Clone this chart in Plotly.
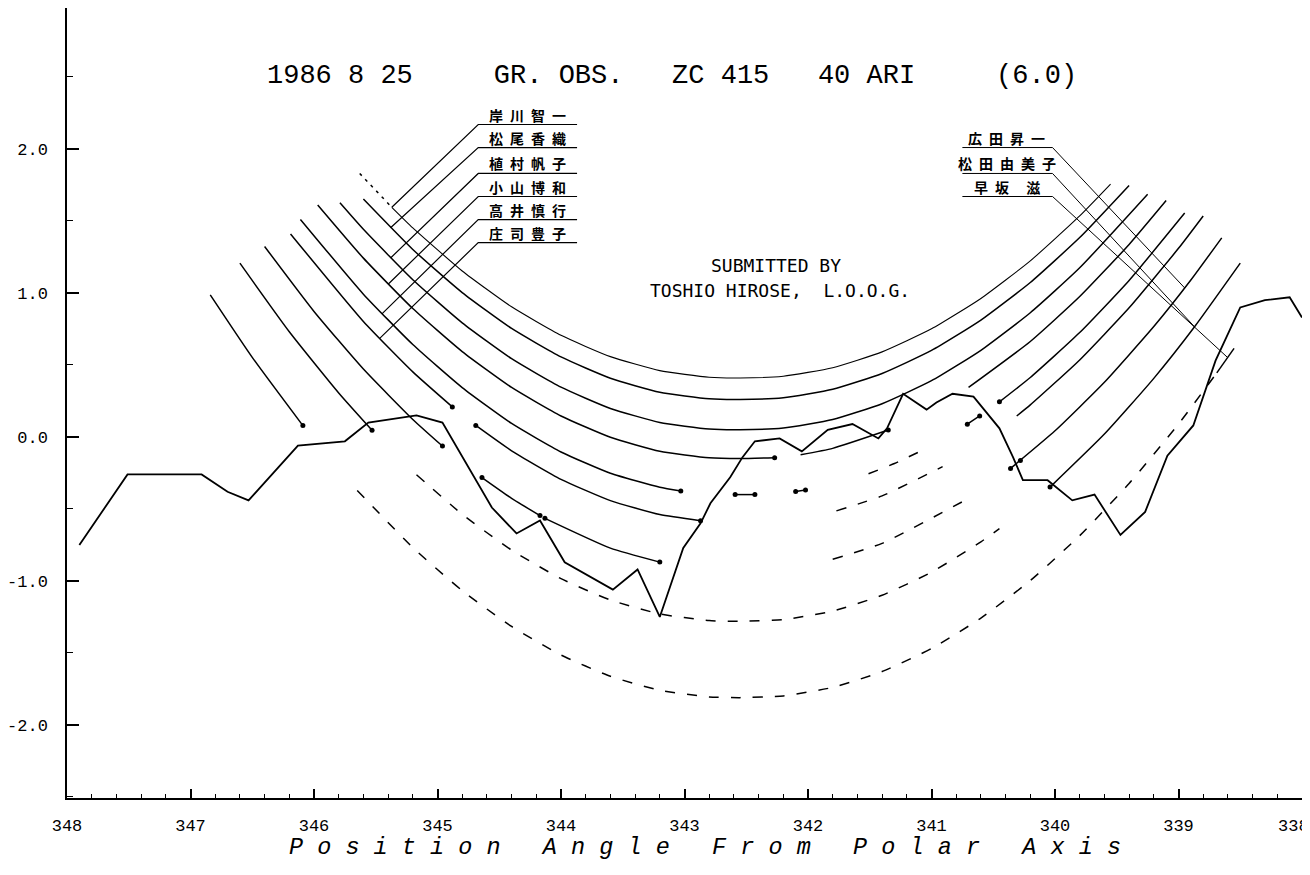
import plotly.graph_objects as go

# ---------------- data (position angle in degrees, height in arbitrary units) ----------------
x_ticks = [348, 347, 346, 345, 344, 343, 342, 341, 340, 339, 338]
x_ticktext = ["348", "347", "346", "345", "344", "343", "342", "341", "340", "339", ""]
x_last_label = "338"
y_ticks = [-2.0, -1.0, 0.0, 1.0, 2.0]
y_ticktext = ["-2.0", "-1.0", "0.0", "1.0", "2.0"]

# lunar limb profile
profile_pa = [347.90, 347.51, 346.91, 346.70, 346.53, 346.13, 345.75, 345.56, 345.17, 344.96,
              344.56, 344.36, 344.17, 343.97, 343.58, 343.38, 343.20, 343.01, 342.87, 342.79,
              342.63, 342.53, 342.43, 342.23, 342.05, 341.84, 341.64, 341.50, 341.43, 341.36,
              341.23, 341.04, 340.96, 340.83, 340.66, 340.45, 340.34, 340.26, 340.06, 339.86,
              339.68, 339.47, 339.27, 339.09, 338.88, 338.70, 338.50, 338.30, 338.10, 338.00]
profile_h = [-0.75, -0.26, -0.26, -0.38, -0.44, -0.06, -0.03, 0.10, 0.15, 0.10,
             -0.49, -0.67, -0.58, -0.87, -1.06, -0.92, -1.25, -0.77, -0.60, -0.46,
             -0.28, -0.14, -0.03, -0.01, -0.10, 0.05, 0.09, 0.02, -0.01, 0.06,
             0.30, 0.19, 0.24, 0.30, 0.28, 0.06, -0.14, -0.30, -0.30, -0.44,
             -0.40, -0.68, -0.52, -0.13, 0.08, 0.53, 0.90, 0.95, 0.97, 0.83]

# observer tracks (solid = star seen, dashed = star hidden)
s1_start_x = [345.63, 345.37]
s1_start_y = [1.83, 1.595]
s1_x = [345.37, 345.2, 344.8, 344.4, 344.0, 343.6, 343.2, 342.8, 342.55, 342.2, 341.8, 341.4, 341.0, 340.6, 340.2, 339.8, 339.55]
s1_y = [1.595, 1.452, 1.153, 0.904, 0.706, 0.558, 0.461, 0.415, 0.41, 0.422, 0.481, 0.591, 0.751, 0.962, 1.223, 1.535, 1.756]

s2_x = [345.6, 345.2, 344.8, 344.4, 344.0, 343.6, 343.2, 342.8, 342.55, 342.2, 341.8, 341.4, 341.0, 340.6, 340.2, 339.8, 339.4]
s2_y = [1.652, 1.302, 1.003, 0.754, 0.556, 0.408, 0.311, 0.265, 0.26, 0.272, 0.331, 0.441, 0.601, 0.812, 1.073, 1.385, 1.747]

s3_x = [345.79, 345.6, 345.2, 344.8, 344.4, 344.0, 343.6, 343.2, 342.8, 342.55, 342.2, 341.8, 341.4, 341.0, 340.6, 340.2, 339.8, 339.25]
s3_y = [1.626, 1.442, 1.092, 0.793, 0.544, 0.346, 0.198, 0.101, 0.055, 0.05, 0.062, 0.121, 0.231, 0.391, 0.602, 0.863, 1.175, 1.686]

s4a_x = [345.97, 345.6, 345.2, 344.8, 344.4, 344.0, 343.6, 343.2, 342.8, 342.55, 342.27]
s4a_y = [1.611, 1.242, 0.892, 0.593, 0.344, 0.146, -0.002, -0.099, -0.145, -0.15, -0.144]
s4b_x = [342.06, 341.8, 341.35]
s4b_y = [-0.123, -0.079, 0.048]
s4c_x = [340.7, 340.2, 339.8, 339.4, 339.1]
s4c_y = [0.344, 0.663, 0.975, 1.337, 1.642]

s5a_x = [346.11, 345.6, 345.2, 344.8, 344.4, 344.0, 343.6, 343.2, 343.03]
s5a_y = [1.511, 0.992, 0.642, 0.343, 0.094, -0.104, -0.252, -0.349, -0.375]
s5b_x = [342.59, 342.43]
s5b_y = [-0.40, -0.40]
s5c_x = [342.10, 342.02]
s5c_y = [-0.378, -0.368]
s5d_x = [341.51, 341.3, 341.08]
s5d_y = [-0.255, -0.184, -0.095]
s5e_x = [340.71, 340.61]
s5e_y = [0.089, 0.146]
s5f_x = [340.45, 340.2, 339.8, 339.4, 338.95]
s5f_y = [0.244, 0.413, 0.725, 1.087, 1.555]

s6a_x = [346.19, 345.6, 345.2, 344.88]
s6a_y = [1.41, 0.802, 0.452, 0.209]
s6b_x = [344.69, 344.4, 344.0, 343.6, 343.2, 342.87]
s6b_y = [0.08, -0.096, -0.294, -0.442, -0.539, -0.581]
s6c_x = [341.77, 341.4, 340.91]
s6c_y = [-0.513, -0.409, -0.206]
s6d_x = [340.31, 340.2, 339.8, 339.4, 339.0, 338.8]
s6d_y = [0.146, 0.223, 0.535, 0.897, 1.31, 1.535]

s7a_x = [346.40, 346.0, 345.6, 345.2, 344.96]
s7a_y = [1.323, 0.872, 0.472, 0.122, -0.063]
s7b_x = [344.64, 344.4, 344.17]
s7b_y = [-0.282, -0.426, -0.546]
s7c_x = [344.13, 343.6, 343.2]
s7c_y = [-0.565, -0.772, -0.869]
s7d_x = [341.80, 341.4, 340.71]
s7d_y = [-0.849, -0.739, -0.431]
s7e_x = [340.36, 340.0, 339.6, 339.2, 338.9, 338.65]
s7e_y = [-0.218, 0.043, 0.38, 0.767, 1.09, 1.383]

d2a_x = [346.60, 346.2, 345.8, 345.53]
d2a_y = [1.207, 0.731, 0.306, 0.047]
d2b_x = [345.17, 344.8, 344.4, 344.0, 343.6, 343.2, 342.8, 342.55, 342.2, 341.8, 341.4, 341.0, 340.6, 340.45]
d2b_y = [-0.262, -0.537, -0.786, -0.984, -1.132, -1.229, -1.275, -1.28, -1.268, -1.209, -1.099, -0.939, -0.728, -0.636]
d2c_x = [340.04, 339.6, 339.2, 338.87, 338.5]
d2c_y = [-0.348, 0.02, 0.407, 0.765, 1.207]

d1a_x = [346.84, 346.5, 346.09]
d1a_y = [0.987, 0.553, 0.079]
d1b_x = [345.65, 345.2, 344.8, 344.4, 344.0, 343.6, 343.2, 342.8, 342.55, 342.2, 341.8, 341.4, 341.0, 340.6, 340.2, 339.8, 339.4, 339.0, 338.69]
d1b_y = [-0.371, -0.768, -1.067, -1.316, -1.514, -1.662, -1.759, -1.805, -1.81, -1.798, -1.739, -1.629, -1.469, -1.258, -0.997, -0.685, -0.323, 0.09, 0.445]
d1c_x = [338.69, 338.55]
d1c_y = [0.445, 0.615]

# event dots
event_x = [342.27, 341.35, 343.03, 342.59, 342.43, 342.10, 342.02, 340.71, 340.61, 340.45,
           344.88, 344.69, 342.87, 344.96, 344.64, 344.17, 344.13, 343.2, 340.36, 340.28,
           345.53, 340.04, 346.09]
event_y = [-0.144, 0.048, -0.375, -0.40, -0.40, -0.378, -0.368, 0.089, 0.146, 0.244,
           0.209, 0.08, -0.581, -0.063, -0.282, -0.546, -0.565, -0.869, -0.218, -0.163,
           0.047, -0.348, 0.079]

# observer labels
left_names = ["岸川智一", "松尾香織", "植村帆子", "小山博和", "高井慎行", "庄司豊子"]
left_underline_y = [2.17, 2.01, 1.83, 1.67, 1.51, 1.35]
left_underline_x = [343.87, 344.67]
left_leader_end_x = [345.37, 345.38, 345.38, 345.40, 345.45, 345.47]
left_leader_end_y = [1.595, 1.453, 1.243, 1.061, 0.855, 0.683]
left_label_x = 344.27

right_names = ["広田昇一", "松田由美子", "早坂 滋"]
right_underline_y = [2.01, 1.83, 1.67]
right_underline_x = [340.75, 340.02]
right_leader_end_x = [338.95, 338.87, 338.60]
right_leader_end_y = [1.035, 0.765, 0.55]
right_label_x = 340.39

title_text = "1986 8 25     GR. OBS.   ZC 415   40 ARI     (6.0)"
submit_lines = ["SUBMITTED BY", "TOSHIO HIROSE,  L.O.O.G."]
x_title = "Position Angle From Polar Axis"

# ---------------- figure ----------------
fig = go.Figure()

def add_seg(x, y, style="solid", width=1.5):
    dash = {"solid": "solid", "dash": "10px,12px", "dot": "3px,5px"}[style]
    fig.add_trace(go.Scatter(x=x, y=y, mode="lines",
                             line=dict(color="black", width=width, dash=dash,
                                       shape="spline", smoothing=0.5),
                             hoverinfo="skip", showlegend=False))

segments = [
    (s1_start_x, s1_start_y, "dot"), (s1_x, s1_y, "solid"),
    (s2_x, s2_y, "solid"), (s3_x, s3_y, "solid"),
    (s4a_x, s4a_y, "solid"), (s4b_x, s4b_y, "solid"), (s4c_x, s4c_y, "solid"),
    (s5a_x, s5a_y, "solid"), (s5b_x, s5b_y, "solid"), (s5c_x, s5c_y, "solid"),
    (s5d_x, s5d_y, "dash"), (s5e_x, s5e_y, "solid"), (s5f_x, s5f_y, "solid"),
    (s6a_x, s6a_y, "solid"), (s6b_x, s6b_y, "solid"), (s6c_x, s6c_y, "dash"), (s6d_x, s6d_y, "solid"),
    (s7a_x, s7a_y, "solid"), (s7b_x, s7b_y, "solid"), (s7c_x, s7c_y, "solid"),
    (s7d_x, s7d_y, "dash"), (s7e_x, s7e_y, "solid"),
    (d2a_x, d2a_y, "solid"), (d2b_x, d2b_y, "dash"), (d2c_x, d2c_y, "solid"),
    (d1a_x, d1a_y, "solid"), (d1b_x, d1b_y, "dash"), (d1c_x, d1c_y, "solid"),
]
for sx, sy, st in segments:
    add_seg(sx, sy, st, width=1.1 if sx is s1_x else 1.5)

# profile
fig.add_trace(go.Scatter(x=profile_pa, y=profile_h, mode="lines",
                         line=dict(color="black", width=1.8),
                         hoverinfo="skip", showlegend=False))

# event dots
fig.add_trace(go.Scatter(x=event_x, y=event_y, mode="markers",
                         marker=dict(color="black", size=5),
                         hoverinfo="skip", showlegend=False))

# left labels with underlines and leaders
for name, uy, ex, ey in zip(left_names, left_underline_y, left_leader_end_x, left_leader_end_y):
    fig.add_trace(go.Scatter(x=[left_underline_x[0], left_underline_x[1], ex],
                             y=[uy, uy, ey], mode="lines",
                             line=dict(color="black", width=1.2),
                             hoverinfo="skip", showlegend=False))
    fig.add_annotation(x=left_label_x, y=uy, yshift=10, text="\u2002".join(name),
                       showarrow=False, xanchor="center", yanchor="middle",
                       font=dict(family="Noto Sans CJK JP", size=14, color="black", weight="bold"))

for name, uy, ex, ey in zip(right_names, right_underline_y, right_leader_end_x, right_leader_end_y):
    fig.add_trace(go.Scatter(x=[right_underline_x[0], right_underline_x[1], ex],
                             y=[uy, uy, ey], mode="lines",
                             line=dict(color="black", width=1.0),
                             hoverinfo="skip", showlegend=False))
    fig.add_annotation(x=right_label_x, y=uy, yshift=10, text="\u2002".join(name),
                       showarrow=False, xanchor="center", yanchor="middle",
                       font=dict(family="Noto Sans CJK JP", size=14, color="black", weight="bold"))

# title and submitter
fig.add_annotation(x=343.10, y=2.51, text=title_text.replace(" ", "\u00a0"), showarrow=False,
                   xanchor="center", yanchor="middle",
                   font=dict(family="Liberation Mono", size=27, color="black"))
fig.add_annotation(x=342.26, y=1.19, text=submit_lines[0].replace(" ", "\u00a0"), showarrow=False,
                   xanchor="center", yanchor="middle",
                   font=dict(family="DejaVu Sans Mono", size=18, color="black"))
fig.add_annotation(x=342.23, y=1.02, text=submit_lines[1].replace(" ", "\u00a0"), showarrow=False,
                   xanchor="center", yanchor="middle",
                   font=dict(family="DejaVu Sans Mono", size=18, color="black"))

# last x tick label, kept inside the window
fig.add_annotation(x=x_ticks[-1], xref="x", yref="paper", y=0, yshift=-28, xshift=-9,
                   text=x_last_label, showarrow=False, xanchor="center", yanchor="middle",
                   font=dict(family="Liberation Mono", size=17, color="black"))

# x-axis title (spaced plotter lettering)
spaced = "\u00a0".join(ch if ch != " " else "\u00a0" for ch in x_title)
fig.add_annotation(xref="paper", yref="paper", x=0.5166, y=-0.063, text=spaced,
                   showarrow=False, xanchor="center", yanchor="middle",
                   font=dict(family="Liberation Mono", size=23.5, color="black", style="italic"))

# the page body adds an 8px offset, so the figure is sized to fit the 1310x875 window
fig.update_layout(
    width=1302, height=867,
    margin=dict(l=59, r=8, t=0, b=77, autoexpand=False),
    plot_bgcolor="white", paper_bgcolor="white",
    showlegend=False,
    xaxis=dict(range=[348, 338], tickmode="array", tickvals=x_ticks,
               ticktext=x_ticktext, automargin=False,
               ticklabeloverflow="allow",
               showgrid=False, zeroline=False, showline=True, linecolor="black", linewidth=1.5,
               ticks="inside", ticklen=9, tickwidth=1.5, tickcolor="black",
               minor=dict(ticks="inside", ticklen=4, tickwidth=1.2, tickcolor="black",
                          tickmode="linear", tick0=338, dtick=0.2, showgrid=False),
               tickfont=dict(family="Liberation Mono", size=17, color="black"),
               ticklabelstandoff=11),
    yaxis=dict(range=[-2.507, 2.979], tickmode="array", tickvals=y_ticks, ticktext=y_ticktext,
               automargin=False, ticklabeloverflow="allow",
               showgrid=False, zeroline=False, showline=True, mirror=True,
               linecolor="black", linewidth=1.5,
               ticks="inside", ticklen=12, tickwidth=1.5, tickcolor="black",
               minor=dict(ticks="inside", ticklen=6, tickwidth=1.2, tickcolor="black",
                          tickmode="linear", tick0=0, dtick=0.5, showgrid=False),
               tickfont=dict(family="Liberation Mono", size=17, color="black"),
               ticklabelstandoff=14),
)

fig.write_html("out.html")
